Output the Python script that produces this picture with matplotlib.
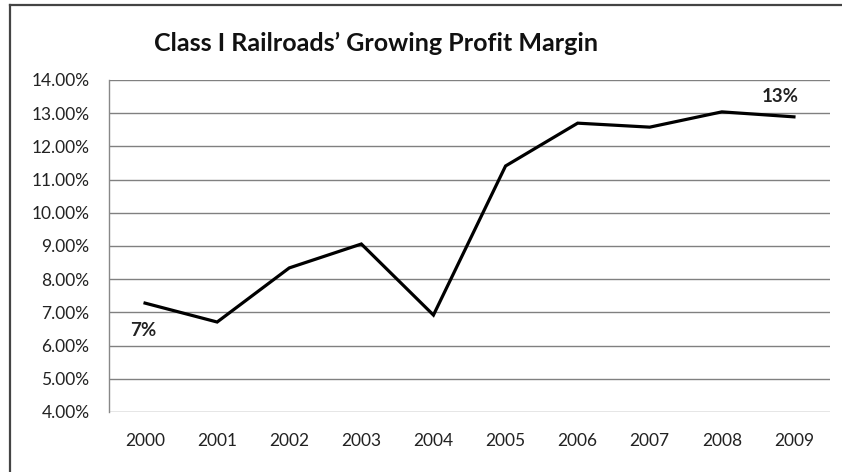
import matplotlib
matplotlib.use("Agg")
import matplotlib.pyplot as plt
from matplotlib.ticker import FuncFormatter
from matplotlib.lines import Line2D

years = ["2000", "2001", "2002", "2003", "2004", "2005", "2006", "2007", "2008", "2009"]
margin = [7.28, 6.71, 8.34, 9.06, 6.92, 11.41, 12.70, 12.58, 13.04, 12.89]
yticks = [4, 5, 6, 7, 8, 9, 10, 11, 12, 13, 14]
title = "Class I Railroads\u2019 Growing Profit Margin"

plt.rcParams['font.family'] = ['Lato', 'DejaVu Sans']

W, H = 842, 472
fig = plt.figure(figsize=(W / 100, H / 100), dpi=100)
ax = fig.add_axes([109 / W, 1 - 412 / H, (830 - 109) / W, (412 - 80) / H])

x = list(range(len(years)))
ax.plot(x, margin, color='black', lw=2.3, solid_joinstyle='miter')

ax.set_ylim(4, 14)
ax.set_xlim(-0.5, len(years) - 0.5)
ax.set_yticks(yticks)
ax.yaxis.set_major_formatter(FuncFormatter(lambda v, p: f"{v:.2f}%"))
ax.set_xticks(x)
ax.set_xticklabels(years)
ax.tick_params(axis='both', length=0, labelsize=12.5, colors='#222222')
ax.tick_params(axis='x', pad=15)
ax.tick_params(axis='y', pad=14)
ax.grid(axis='y', color='#808080', lw=1.0)
ax.set_axisbelow(True)
for s in ['top', 'right', 'bottom']:
    ax.spines[s].set_visible(False)
ax.spines['left'].set_color('#888888')
ax.spines['left'].set_linewidth(1.0)

ax.annotate("7%", xy=(x[0], margin[0]), xytext=(-1.5, -19.5), textcoords='offset points',
            ha='center', va='center', fontsize=13.5, fontweight='bold', color='#222222')
ax.annotate("13%", xy=(x[-1], margin[-1]), xytext=(-10, 15), textcoords='offset points',
            ha='center', va='center', fontsize=13.5, fontweight='bold', color='#222222')

fig.text(376 / W, 1 - 43 / H, title, ha='center', va='center', fontsize=18,
         fontweight='bold', color='#111111')

fig.lines.append(Line2D([10 / W, 1.0], [1 - 5 / H, 1 - 5 / H], transform=fig.transFigure,
                        color='#444444', lw=1.6))
fig.lines.append(Line2D([10 / W, 10 / W], [0.0, 1 - 5 / H], transform=fig.transFigure,
                        color='#444444', lw=1.6))

fig.savefig("out.png", dpi=100)
